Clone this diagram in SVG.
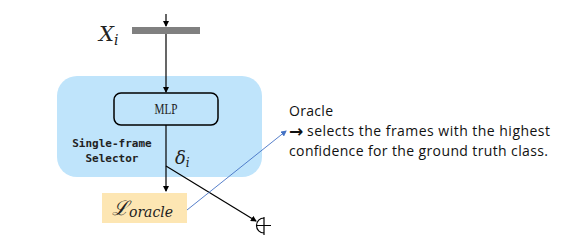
<svg xmlns="http://www.w3.org/2000/svg" width="583" height="246" viewBox="0 0 583 246">
<defs>
<marker id="ah" markerWidth="6" markerHeight="6" refX="5" refY="3" orient="auto" markerUnits="userSpaceOnUse"><path d="M0,0 L6,3 L0,6 z" fill="#000"/></marker>
<marker id="ahb" markerWidth="6" markerHeight="6" refX="5" refY="3" orient="auto" markerUnits="userSpaceOnUse"><path d="M0,0 L6,3 L0,6 z" fill="#4472c4"/></marker>
<style>
.math{font-family:"DejaVu Serif","Liberation Serif",serif;font-style:italic;fill:#222}
.mono{font-family:"DejaVu Sans Mono","Liberation Mono",monospace;font-weight:bold;font-size:11px;fill:#222}
.note{font-family:"Open Sans","Liberation Sans",sans-serif;font-size:14px;fill:#111}
.ln{stroke:#000;stroke-width:1.2;fill:none}
</style>
</defs>
<rect width="583" height="246" fill="#fff"/>
<g id="selector">
<rect x="57" y="76" width="205" height="101" rx="20" fill="#bfe4fb"/>
<text class="mono" x="112" y="147" text-anchor="middle">Single-frame</text>
<text class="mono" x="112" y="162" text-anchor="middle">Selector</text>
</g>
<g id="input">
<rect x="132" y="27" width="68" height="7" fill="#808080"/>
<text class="math" x="99" y="41" font-size="21">X<tspan font-size="14" dy="4">i</tspan></text>
</g>
<g id="mlp">
<rect x="114" y="93" width="104" height="32" rx="7" fill="none" stroke="#000" stroke-width="1.5"/>
<text x="166" y="114" text-anchor="middle" font-family="Liberation Serif,serif" font-size="14" fill="#222" transform="translate(166 0) scale(0.8 1) translate(-166 0)">MLP</text>
</g>
<g id="loss">
<rect x="102" y="193" width="85" height="30" fill="#fde6b3"/>
<text class="math" x="112" y="215" font-size="20">ℒ<tspan font-size="14" dy="2">oracle</tspan></text>
</g>
<g id="delta">
<text class="math" x="175" y="164" font-size="18">δ<tspan font-size="12" dy="3">i</tspan></text>
</g>
<g id="oplus">
<path d="M264,218 A7.5,7.5 0 0 0 264,233 M264,217 L264,235 M257,225.5 L271,225.5" class="ln"/>
</g>
<g id="note">
<text class="note" x="289" y="116" textLength="44">Oracle</text>
<text class="note" x="289" y="136"><tspan font-family="DejaVu Sans,sans-serif" font-weight="bold" font-size="17" dy="1">→</tspan><tspan x="307" dy="-1" textLength="243">selects the frames with the highest</tspan></text>
<text class="note" x="289" y="156" textLength="259">confidence for the ground truth class.</text>
</g>
<g id="connectors">
<line class="ln" x1="166" y1="14" x2="166" y2="26" marker-end="url(#ah)"/>
<line class="ln" x1="166" y1="34" x2="166" y2="92" marker-end="url(#ah)"/>
<line class="ln" x1="166" y1="125" x2="166" y2="191" marker-end="url(#ah)"/>
<line class="ln" x1="166" y1="166" x2="256" y2="221" marker-end="url(#ah)"/>
<line x1="187" y1="210" x2="286" y2="131" stroke="#4472c4" stroke-width="0.9" marker-end="url(#ahb)"/>
</g>
</svg>
